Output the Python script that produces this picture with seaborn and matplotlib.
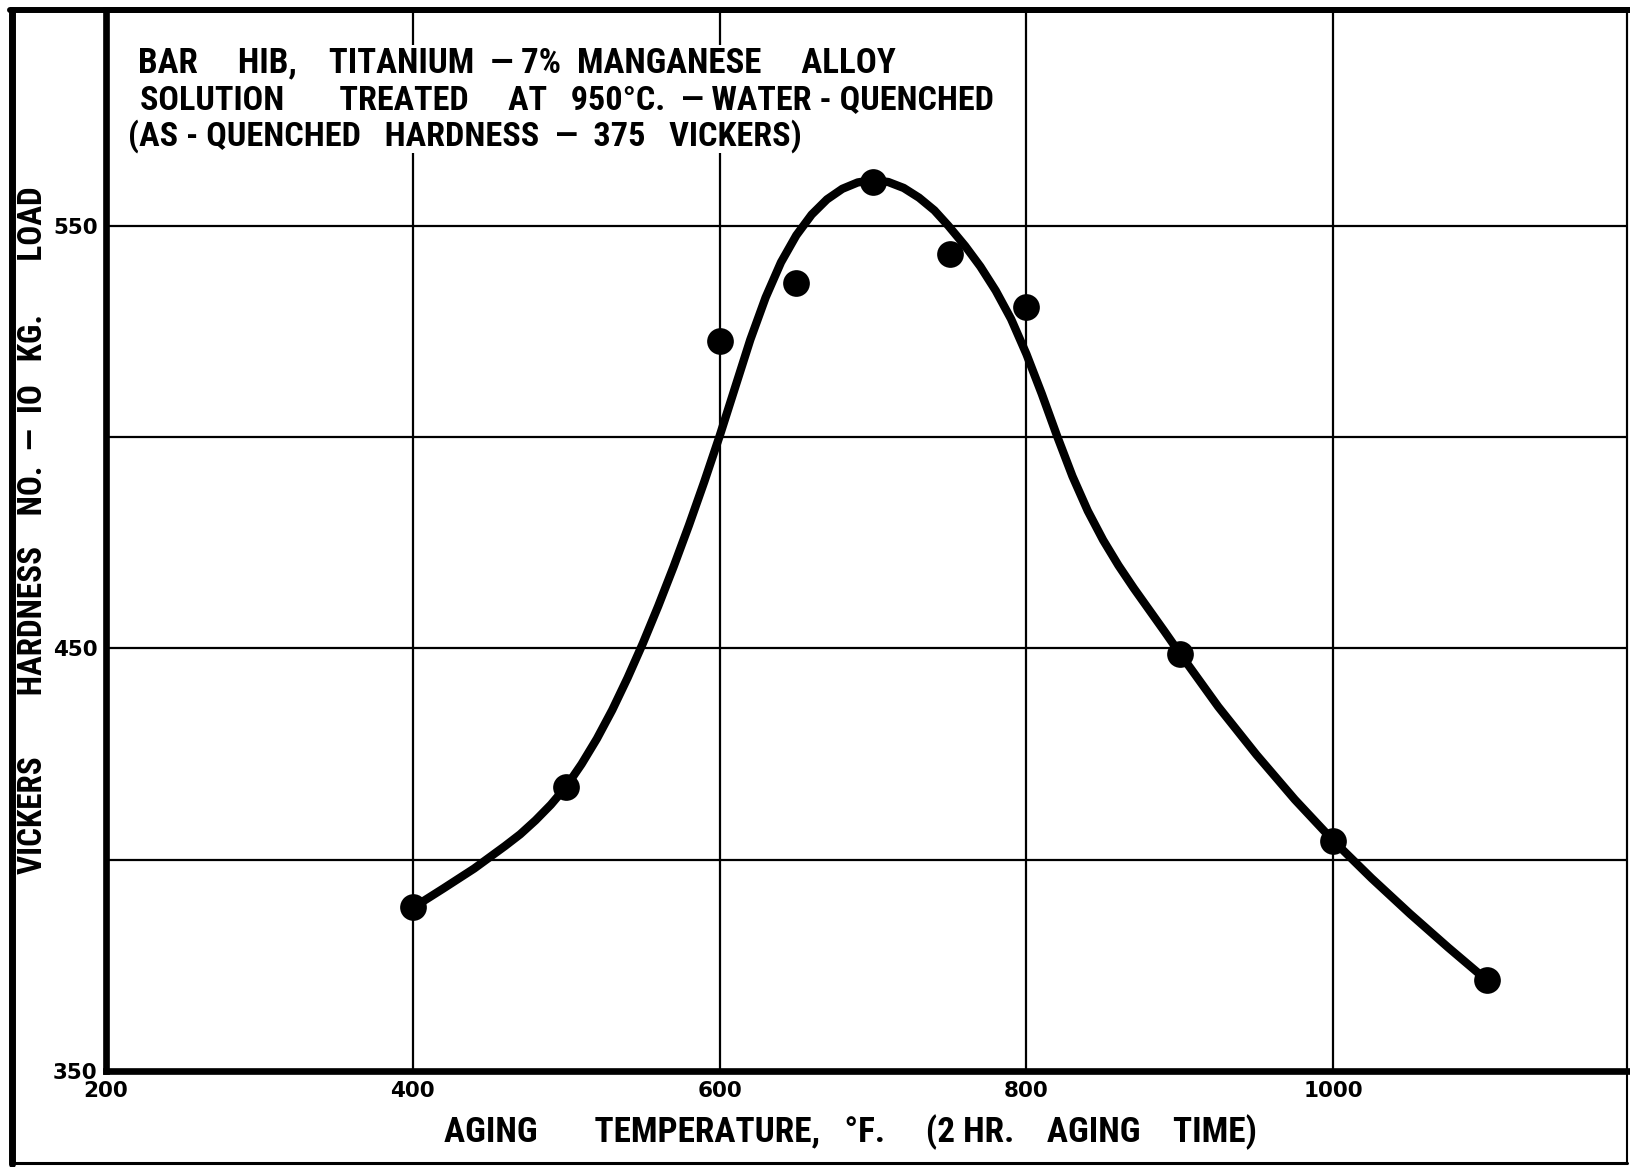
import matplotlib
matplotlib.use("Agg")
import matplotlib.pyplot as plt
import seaborn as sns
from matplotlib import font_manager as fm
from matplotlib.font_manager import FontProperties
from matplotlib.lines import Line2D
from matplotlib.patches import Rectangle

# ---------------- data ----------------
temps = [400, 500, 600, 650, 700, 750, 800, 900, 1000, 1100]
hardness = [388.8, 417.3, 522.6, 536.4, 560.2, 543.3, 530.7, 448.6, 404.5, 371.6]

# hand-drawn smooth curve
curve_temp = [400, 420, 440, 460, 470, 480, 490, 500, 510, 520, 530, 540, 550,
              560, 570, 580, 590, 600, 610, 620, 630, 640, 650, 660, 670, 680,
              690, 700, 710, 720, 730, 740, 749, 760, 770, 780, 790, 800, 810,
              820, 830, 840, 850, 860, 870, 880, 890, 900, 925, 950, 975, 1000,
              1025, 1050, 1075, 1100]
curve_hard = [388.6, 393.2, 397.9, 403.2, 406.0, 409.3, 413.0, 417.3, 422.6,
              428.6, 435.4, 443.0, 451.2, 460.0, 469.3, 479.1, 489.4, 500.2,
              511.6, 523.0, 533.0, 541.3, 547.7, 552.6, 556.2, 558.7, 560.2,
              560.8, 560.3, 558.9, 556.6, 553.6, 550.0, 545.2, 540.3, 534.6,
              527.9, 519.6, 510.2, 500.2, 490.7, 482.5, 475.6, 469.6, 464.2,
              459.1, 454.0, 448.8, 436.2, 424.8, 414.2, 404.5, 395.6, 387.2,
              379.2, 371.5]

x_ticks = [200, 400, 600, 800, 1000]
x_tick_labels = ["200", "400", "600", "800", "1000"]
y_ticks = [350, 400, 450, 500, 550]
y_tick_labels = ["350", "", "450", "", "550"]

note_lines = [
    "BAR     HIB,    TITANIUM  — 7%  MANGANESE     ALLOY",
    "SOLUTION       TREATED     AT   950°C.  — WATER - QUENCHED",
    "(AS - QUENCHED   HARDNESS  —  375   VICKERS)",
]
x_label = "AGING       TEMPERATURE,   °F.     (2 HR.    AGING    TIME)"
y_label = "VICKERS        HARDNESS    NO.  —  IO   KG.       LOAD"

# ---------------- style ----------------
sns.set_theme(style="white")
plt.rcParams["font.family"] = ["DejaVu Sans"]


def pick_font():
    cands = [("Liberation Sans Narrow", "normal"), ("Roboto Condensed", "normal"),
             ("Open Sans Condensed", "normal"), ("Noto Sans", "condensed"),
             ("Open Sans", "condensed"), ("Roboto", "condensed"),
             ("DejaVu Sans", "condensed")]
    for fam, st in cands:
        try:
            p = fm.findfont(FontProperties(family=fam, weight="bold", stretch=st),
                            fallback_to_default=False)
        except Exception:
            continue
        if st == "condensed" and "ondensed" not in p:
            continue
        return dict(family=fam, stretch=st, weight="bold")
    return dict(family="DejaVu Sans", weight="bold")


letter_font = pick_font()

W, H = 1631, 1167
def fx(px):
    return px / W
def fy(py):
    return 1 - py / H

fig = plt.figure(figsize=(W / 100, H / 100), dpi=100)
fig.patch.set_facecolor("white")
ax = fig.add_axes([fx(106), fy(1071), fx(1627) - fx(106), fy(10) - fy(1071)])
ax.set_facecolor("white")

sns.lineplot(x=curve_temp, y=curve_hard, ax=ax, color="black", lw=6,
             sort=False, estimator=None, zorder=2)
ax.lines[-1].set_solid_joinstyle("round")
ax.lines[-1].set_solid_capstyle("round")
sns.scatterplot(x=temps, y=hardness, ax=ax, s=370, color="black",
                edgecolor="black", linewidth=0, zorder=3)

ax.set_xlim(200, 1191.5)
ax.set_ylim(350, 601)
ax.set_xticks(x_ticks, x_tick_labels)
ax.set_yticks(y_ticks, y_tick_labels)
ax.grid(True, color="black", lw=1.6)
ax.set_axisbelow(True)
ax.tick_params(axis="both", length=0, labelsize=15.5, colors="black")
ax.tick_params(axis="x", pad=7)
ax.tick_params(axis="y", pad=6)
for lab in ax.get_xticklabels() + ax.get_yticklabels():
    lab.set_fontweight("bold")
ax.set_xlabel("")
ax.set_ylabel("")

for side, lw in [("left", 4.8), ("bottom", 4.8), ("top", 4.3), ("right", 1.5)]:
    ax.spines[side].set_visible(True)
    ax.spines[side].set_color("black")
    ax.spines[side].set_linewidth(lw)

# white area behind the note (grid lines are broken there)
ax.add_patch(Rectangle((fx(115), fy(153)), fx(1000) - fx(115), fy(45) - fy(153),
                       transform=fig.transFigure, facecolor="white",
                       edgecolor="none", zorder=1, clip_on=False))

renderer = fig.canvas.get_renderer()


def fitted_text(x, y, s, target, vertical=False, **kw):
    t = fig.text(fx(x), fy(y), s, fontsize=20, color="black",
                 rotation=90 if vertical else 0, **letter_font, **kw)
    bb = t.get_window_extent(renderer)
    size = bb.height if vertical else bb.width
    t.set_fontsize(20 * target / size)
    return t


note_pos = [(138, 72, 897 - 138), (140, 109, 993 - 140), (128, 146, 803 - 128)]
for txt, (px, py, tw) in zip(note_lines, note_pos):
    fitted_text(px, py, txt, tw, ha="left", va="baseline", zorder=6)

fitted_text(851, 1142, x_label, 1258 - 444, ha="center", va="baseline")
fitted_text(33, 530.5, y_label, 874 - 187, vertical=True, ha="center", va="center")

# outer frame of the drawing
fig.add_artist(Line2D([fx(12), fx(12)], [fy(10), fy(1164)], transform=fig.transFigure,
                      color="black", lw=5))
fig.add_artist(Line2D([fx(10), fx(1629)], [fy(10), fy(10)], transform=fig.transFigure,
                      color="black", lw=4.3))
fig.add_artist(Line2D([fx(12), fx(1627)], [fy(1163), fy(1163)], transform=fig.transFigure,
                      color="black", lw=2.2))
fig.add_artist(Line2D([fx(1627), fx(1627)], [fy(10), fy(1164)], transform=fig.transFigure,
                      color="black", lw=1.5))

fig.savefig("out.png", dpi=100, facecolor="white")
